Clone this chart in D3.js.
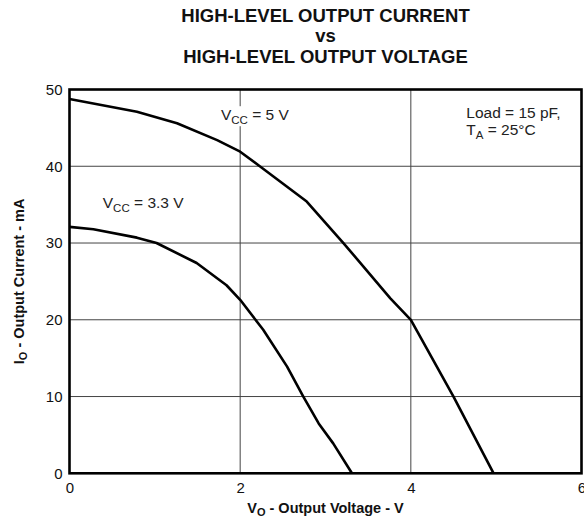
<!DOCTYPE html>
<html>
<head>
<meta charset="utf-8">
<script src="https://cdn.jsdelivr.net/npm/d3@7"></script>
<style>
  body { margin: 0; background: white; }
  svg text { font-family: "Liberation Sans", Arial, sans-serif; }
</style>
</head>
<body>
<div id="chart"></div>
<script>
// values
let vcc5_v = [0, 0.79, 1.26, 1.73, 2.0, 2.23, 2.78, 3.21, 3.76, 4.0, 4.5, 4.97];
let vcc5_i = [48.76, 47.1, 45.6, 43.4, 41.9, 40.0, 35.4, 30.0, 22.8, 20.0, 10.0, 0];
let vcc33_v = [0, 0.28, 0.79, 1.02, 1.49, 1.84, 2.0, 2.27, 2.55, 2.74, 2.92, 3.09, 3.31];
let vcc33_i = [32.1, 31.8, 30.7, 30.0, 27.4, 24.5, 22.6, 18.7, 13.9, 10.0, 6.5, 3.9, 0];
let x_ticks = [0, 2, 4, 6];
let y_ticks = [0, 10, 20, 30, 40, 50];
let title_lines = ["HIGH-LEVEL OUTPUT CURRENT", "vs", "HIGH-LEVEL OUTPUT VOLTAGE"];

let _default = {
    width: 584,
    height: 522,
    left: 69.5,
    right: 581.5,
    top: 89.5,
    bottom: 473.3,
    stroke: "black"
};

let svg = d3.select("div#chart")
    .append("svg")
    .attr("width", _default.width)
    .attr("height", _default.height);

let x = d3.scaleLinear().domain([0, 6]).range([_default.left, _default.right]);
let y = d3.scaleLinear().domain([0, 50]).range([_default.bottom, _default.top]);

// grid
svg.append("g").selectAll("line").data(x_ticks.slice(1, -1)).enter().append("line")
    .attr("x1", d => x(d)).attr("x2", d => x(d))
    .attr("y1", y(0)).attr("y2", y(50))
    .attr("stroke", "#444").attr("stroke-width", 1);
svg.append("g").selectAll("line").data(y_ticks.slice(1, -1)).enter().append("line")
    .attr("y1", d => y(d)).attr("y2", d => y(d))
    .attr("x1", x(0)).attr("x2", x(6))
    .attr("stroke", "#444").attr("stroke-width", 1);

// axes (labels only)
let xAxis = svg.append("g")
    .attr("transform", `translate(0, ${y(0)})`)
    .call(d3.axisBottom(x).tickValues(x_ticks).tickFormat(d3.format("d")).tickSize(0).tickPadding(9));
let yAxis = svg.append("g")
    .attr("transform", `translate(${x(0)}, 0)`)
    .call(d3.axisLeft(y).tickValues(y_ticks).tickFormat(d3.format("d")).tickSize(0).tickPadding(7));
[xAxis, yAxis].forEach(g => {
    g.select(".domain").remove();
    g.selectAll("text").attr("font-size", 15).attr("fill", "#111")
        .style("font-family", "'Liberation Sans', Arial, sans-serif");
});

// curves
let line = d3.line().x(d => x(d[0])).y(d => y(d[1]));
[[vcc5_v, vcc5_i], [vcc33_v, vcc33_i]].forEach(s => {
    svg.append("path")
        .datum(d3.zip(s[0], s[1]))
        .attr("d", line)
        .attr("fill", "none")
        .attr("stroke", _default.stroke)
        .attr("stroke-width", 2.6)
        .attr("stroke-linejoin", "round");
});

// frame
svg.append("rect")
    .attr("x", x(0)).attr("y", y(50))
    .attr("width", x(6) - x(0)).attr("height", y(0) - y(50))
    .attr("fill", "none").attr("stroke", _default.stroke).attr("stroke-width", 2.6);

// annotations
let addSub = (v, yv, main, sub, rest) => {
    let g = svg.append("g");
    let t = g.append("text")
        .attr("x", x(v)).attr("y", y(yv))
        .attr("font-size", 15.5).attr("fill", "#222");
    t.append("tspan").text(main);
    t.append("tspan").attr("font-size", 11.5).attr("dy", 4).text(sub);
    t.append("tspan").attr("dy", -4).text(rest);
    let b = t.node().getBBox();
    g.insert("rect", "text")
        .attr("x", b.x - 1).attr("y", b.y).attr("width", b.width + 2).attr("height", b.height)
        .attr("fill", "white");
};
addSub(1.775, 46.0, "V", "CC", " = 5 V");
addSub(0.39, 34.6, "V", "CC", " = 3.3 V");
svg.append("text")
    .attr("x", x(4.65)).attr("y", y(46.3))
    .attr("font-size", 15.5).attr("fill", "#222")
    .text("Load = 15 pF,");
addSub(4.65, 44.1, "T", "A", " = 25°C");

// title
svg.append("g").selectAll("text").data(title_lines).enter().append("text")
    .attr("x", (x(0) + x(6)) / 2)
    .attr("y", (d, i) => [22, 42, 63][i])
    .attr("text-anchor", "middle")
    .attr("font-size", 18.5)
    .attr("font-weight", "bold")
    .attr("fill", "#111")
    .text(d => d);

// axis titles
let xt = svg.append("text")
    .attr("x", (x(0) + x(6)) / 2).attr("y", 513)
    .attr("text-anchor", "middle")
    .attr("font-size", 14.5).attr("font-weight", "bold").attr("fill", "#111");
xt.append("tspan").text("V");
xt.append("tspan").attr("font-size", 11).attr("dy", 3).text("O");
xt.append("tspan").attr("dy", -3).text(" - Output Voltage - V");

let yt = svg.append("text")
    .attr("transform", `translate(24, ${(y(0) + y(50)) / 2}) rotate(-90)`)
    .attr("text-anchor", "middle")
    .attr("font-size", 14.5).attr("font-weight", "bold").attr("fill", "#111");
yt.append("tspan").text("I");
yt.append("tspan").attr("font-size", 11).attr("dy", 3).text("O");
yt.append("tspan").attr("dy", -3).text(" - Output Current - mA");
</script>
</body>
</html>
